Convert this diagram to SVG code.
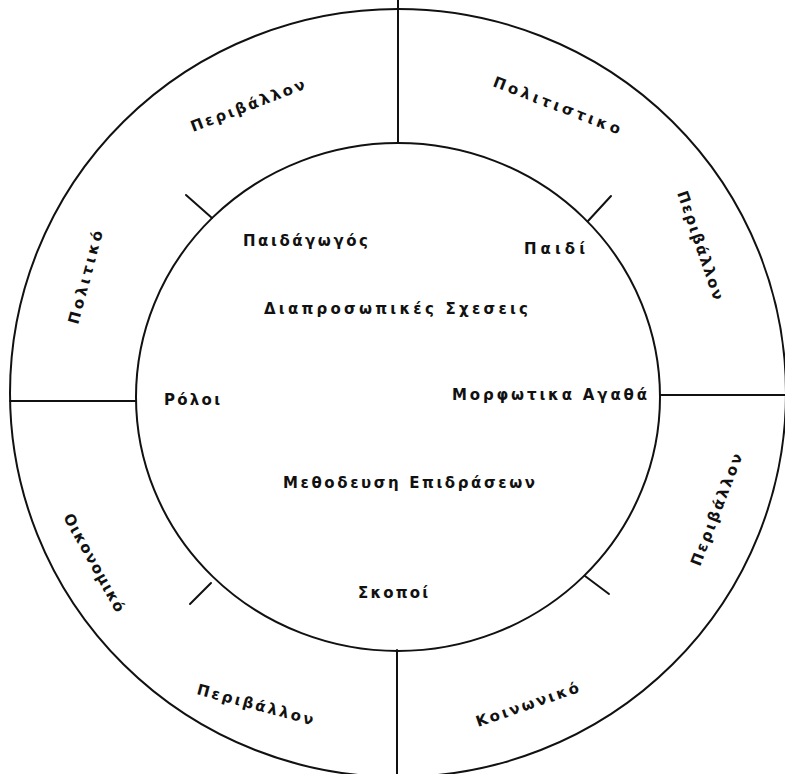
<svg xmlns="http://www.w3.org/2000/svg" width="785" height="774" viewBox="0 0 785 774">
<style>
  .ln { fill: none; stroke: #111; stroke-width: 2; stroke-linecap: round; }
  .t { font-family: "DejaVu Sans", "Liberation Sans", sans-serif; font-size: 15px; font-weight: bold; fill: #111; }
</style>
<rect x="0" y="0" width="785" height="774" fill="#fff"/>
<g id="rings">
  <ellipse class="ln" cx="398" cy="393" rx="388" ry="384"/>
  <ellipse class="ln" cx="398" cy="397" rx="262" ry="254"/>
</g>
<g id="connectors">
  <line class="ln" x1="398" y1="0" x2="398" y2="143"/>
  <line class="ln" x1="397" y1="650" x2="397" y2="774"/>
  <line class="ln" x1="10" y1="401" x2="136" y2="401"/>
  <line class="ln" x1="660" y1="395" x2="785" y2="395" stroke-width="3"/>
  <line class="ln" x1="186" y1="195" x2="212" y2="218"/>
  <line class="ln" x1="588" y1="221" x2="611" y2="196"/>
  <line class="ln" x1="190" y1="604" x2="211" y2="583"/>
  <line class="ln" x1="585" y1="576" x2="609" y2="594"/>
</g>
<g id="outer-labels">
  <g id="perivallon-top-left"><text class="t" transform="translate(193,132) rotate(-21)" textLength="121" lengthAdjust="spacing">Περιβάλλον</text></g>
  <g id="politistiko"><text class="t" transform="translate(492,86) rotate(21)" textLength="135" lengthAdjust="spacing">Πολιτιστικο</text></g>
  <g id="perivallon-right-upper"><text class="t" transform="translate(677,193) rotate(71)" textLength="114" lengthAdjust="spacing">Περιβάλλον</text></g>
  <g id="politiko"><text class="t" transform="translate(78,325) rotate(-75)" textLength="96" lengthAdjust="spacing">Πολιτικό</text></g>
  <g id="oikonomiko"><text class="t" transform="translate(63,517) rotate(61)" textLength="110" lengthAdjust="spacing">Οικονομικό</text></g>
  <g id="perivallon-bottom-left"><text class="t" transform="translate(196,694) rotate(15)" textLength="120" lengthAdjust="spacing">Περιβάλλον</text></g>
  <g id="koinoniko"><text class="t" transform="translate(478,727) rotate(-19)" textLength="108" lengthAdjust="spacing">Κοινωνικό</text></g>
  <g id="perivallon-right-lower"><text class="t" transform="translate(700,567) rotate(-69)" textLength="119" lengthAdjust="spacing">Περιβάλλον</text></g>
</g>
<g id="inner-labels">
  <g id="paidagogos"><text class="t" x="243" y="246" textLength="125" lengthAdjust="spacing">Παιδάγωγός</text></g>
  <g id="paidi"><text class="t" x="524" y="254" textLength="61" lengthAdjust="spacing">Παιδί</text></g>
  <g id="diaprosopikes"><text class="t" x="264" y="314" textLength="264" lengthAdjust="spacing">Διαπροσωπικές Σχεσεις</text></g>
  <g id="roloi"><text class="t" x="164" y="405" textLength="56" lengthAdjust="spacing">Ρόλοι</text></g>
  <g id="morfotika"><text class="t" x="452" y="400" textLength="195" lengthAdjust="spacing">Μορφωτικα Αγαθά</text></g>
  <g id="methodefsi"><text class="t" x="283" y="488" textLength="252" lengthAdjust="spacing">Μεθοδευση Επιδράσεων</text></g>
  <g id="skopoi"><text class="t" x="358" y="598" textLength="70" lengthAdjust="spacing">Σκοποί</text></g>
</g>
</svg>
